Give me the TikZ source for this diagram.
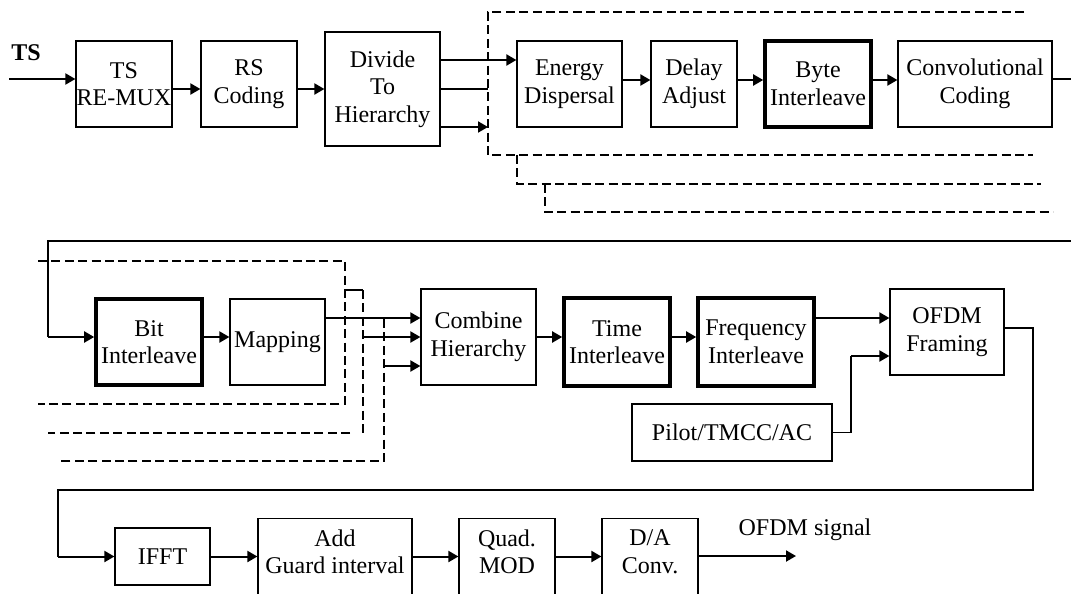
\documentclass[tikz,border=0pt]{standalone}
\usepackage{fontspec}
\setmainfont{Liberation Serif}
\usetikzlibrary{arrows.meta}
\begin{document}
\begin{tikzpicture}[x=0.5pt,y=-0.5pt,
  blk/.style={draw,line width=0.6pt,inner sep=0pt,align=center,font=\fontsize{12}{13.8}\selectfont},
  tblk/.style={blk,line width=1.8pt},
  botblk/.style={blk,anchor=north,inner ysep=5.5pt,text depth=30pt},
  arr/.style={line width=1pt,-{Triangle[length=5pt,width=5.5pt]}},
  ln/.style={line width=0.6pt},
  dsh/.style={line width=1pt,dash pattern=on 4.5pt off 2.2pt},
  lbl/.style={font=\fontsize{12}{13.8}\selectfont,inner sep=0pt}]
\useasboundingbox (0,0) rectangle (1071,594);
\clip (0,0) rectangle (1071,594);
% ---------- row 1 ----------
\node[lbl,font=\fontsize{12}{13.8}\selectfont\bfseries] (tsl) at (26,53) {TS};
\node[blk,minimum width=48pt,minimum height=43pt] (remux) at (124,84) {TS\\RE-MUX};
\node[blk,minimum width=48pt,minimum height=43pt] (rs) at (249,84) {RS\\Coding};
\node[blk,minimum width=57.5pt,minimum height=57pt] (div) at (382.5,89) {Divide\\To\\Hierarchy};
\node[blk,minimum width=52.5pt,minimum height=43pt] (ed) at (569.5,84) {Energy\\Dispersal};
\node[blk,minimum width=43pt,minimum height=43pt] (delay) at (694,84) {Delay\\Adjust};
\node[tblk,minimum width=53pt,minimum height=43pt] (byte) at (818,84) {Byte\\Interleave};
\node[blk,minimum width=77pt,minimum height=43pt] (conv) at (975,84) {Convolutional\\Coding};
% ---------- row 2 ----------
\node[tblk,minimum width=53pt,minimum height=43pt] (bit) at (149,342) {Bit\\Interleave};
\node[blk,minimum width=47.5pt,minimum height=43pt] (map) at (277.5,342) {Mapping};
\node[blk,minimum width=57.5pt,minimum height=48pt] (comb) at (478.5,337) {Combine\\Hierarchy};
\node[tblk,minimum width=53pt,minimum height=44pt] (time) at (617,342) {Time\\Interleave};
\node[tblk,minimum width=58pt,minimum height=44pt] (freq) at (756,342) {Frequency\\Interleave};
\node[blk,minimum width=57pt,minimum height=43pt] (ofdm) at (947,332) {OFDM\\Framing};
\node[blk,minimum width=100pt,minimum height=28.5pt] (pilot) at (732,432.5) {Pilot/TMCC/AC};
% ---------- row 3 ----------
\node[blk,minimum width=47.5pt,minimum height=28.5pt] (ifft) at (162.5,556.5) {IFFT};
\node[botblk,minimum width=77pt] (add) at (335,518) {Add\\Guard interval};
\node[botblk,minimum width=48pt] (quad) at (507,518) {Quad.\\MOD};
\node[botblk,minimum width=48pt] (da) at (650,518) {D/A\\Conv.};
\node[lbl] (sig) at (805,530) {OFDM signal};
% ---------- coordinates ----------
\coordinate (tsin) at (9,79);
\coordinate (d1) at (488,12);
\coordinate (e1) at (1071,79);
\coordinate (e2) at (1071,241);
\coordinate (l1) at (48,241);
\coordinate (b2) at (363,337);
\coordinate (b3) at (384,366);
\coordinate (pk) at (851,356);
\coordinate (r1) at (1033,490);
\coordinate (r2) at (58,490);
\coordinate (out) at (796,556);
% ---------- connectors row 1 ----------
\draw[arr] (tsin) -- (tsin -| remux.west);
\draw[arr] ([yshift=-2.5pt]remux.east) -- ([yshift=-2.5pt]rs.west);
\draw[arr] ([yshift=-2.5pt]rs.east) -- (div.west);
\draw[arr] ([yshift=14.5pt]div.east) -- ([yshift=12pt]ed.west);
\draw[ln] (div.east) -- (div.east -| d1);
\draw[arr] ([yshift=-19pt]div.east) -- ([yshift=-19pt]div.east -| d1);
\draw[arr] ([yshift=2pt]ed.east) -- ([yshift=2pt]delay.west);
\draw[arr] ([yshift=2pt]delay.east) -- ([yshift=2pt]byte.west);
\draw[arr] ([yshift=2pt]byte.east) -- ([yshift=2pt]conv.west);
\draw[ln] ([yshift=2.5pt]conv.east) -- (e1);
% dashed hierarchy layers, top
\draw[dsh] (1024,12) -- (d1) -- (488,155) -- (1033,155);
\draw[dsh] (517,155) -- (517,184) -- (1041,184);
\draw[dsh] (545,184) -- (545,212) -- (1053,212);
% ---------- connectors row 2 ----------
\draw[ln] (e2) -- (l1) -- (l1 |- b2);
\draw[arr] (l1 |- b2) -- ([yshift=2.5pt]bit.west);
\draw[arr] ([yshift=2.5pt]bit.east) -- ([yshift=2.5pt]map.west);
\draw[arr] ([yshift=12pt]map.east) -- ([yshift=9.5pt]comb.west);
\draw[arr] (b2) -- (comb.west);
\draw[arr] (b3) -- (b3 -| comb.west);
\draw[arr] (comb.east) -- ([yshift=2.5pt]time.west);
\draw[arr] ([yshift=2.5pt]time.east) -- ([yshift=2.5pt]freq.west);
\draw[arr] ([yshift=12pt]freq.east) -- ([yshift=7pt]ofdm.west);
\draw[ln] (pilot.east) -| (pk);
\draw[arr] (pk) -- (pk -| ofdm.west);
% dashed hierarchy layers, middle
\draw[dsh] (38,261) -- (345,261) -- (345,404) -- (38,404);
\draw[ln] (345,290) -- (363,290);
\draw[dsh] (363,290) -- (363,433);
\draw[dsh] (350,433) -- (48,433);
\draw[dsh] (384,319) -- (384,461) -- (58,461);
% ---------- connectors row 3 ----------
\draw[ln] ([yshift=2pt]ofdm.east) -| (r1) -- (r2) -- (r2 |- ifft.west);
\draw[arr] (r2 |- ifft.west) -- (ifft.west);
\draw[arr] (ifft.east) -- (ifft.east -| add.west);
\draw[arr] (ifft.east -| add.east) -- (ifft.east -| quad.west);
\draw[arr] (ifft.east -| quad.east) -- (ifft.east -| da.west);
\draw[arr] (out -| da.east) -- (out);
\end{tikzpicture}
\end{document}
